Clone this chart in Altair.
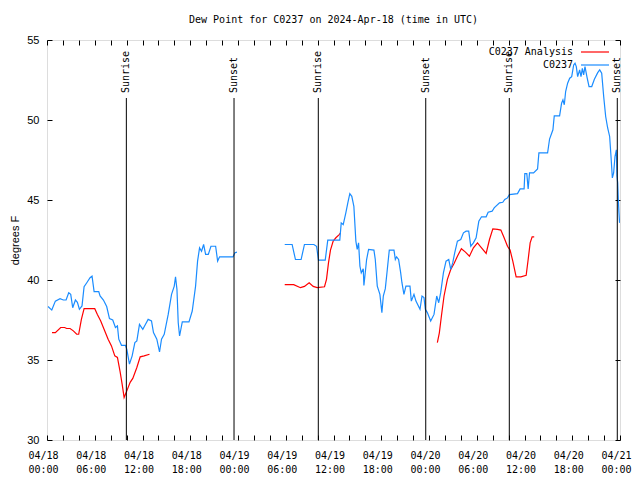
import altair as alt
import pandas as pd

TITLE = "Dew Point for C0237 on 2024-Apr-18 (time in UTC)"

# Hours since 2024-04-18 00:00 UTC, dew point in degrees F
obs1_hours = [0.13, 0.6, 1.05, 1.64, 2.06, 2.4, 2.73, 2.98, 3.23, 3.57,
              3.82, 4.07, 4.4, 4.66, 5.0, 5.41, 5.66, 5.92, 6.5, 6.67,
              7.09, 7.5, 7.85, 8.26, 8.6, 8.85, 9.02, 9.36, 9.86, 10.03,
              10.36, 10.7, 11.04, 11.29, 11.62, 12.04, 12.38, 12.71, 13.13, 13.38,
              13.8, 14.14, 14.39, 14.73, 15.23, 15.65, 15.99, 16.15, 16.33, 16.49,
              16.66, 17.0, 17.84, 18.25, 18.67, 18.92, 19.17, 19.42, 19.68, 19.93,
              20.27, 20.6, 21.19, 21.44, 21.69, 23.37, 23.62, 23.87]
obs1_values = [38.34, 38.12, 38.68, 38.83, 38.75, 38.75, 39.2, 39.1, 38.27, 38.75,
               38.6, 38.17, 38.38, 39.58, 39.83, 40.14, 40.24, 39.27, 39.27, 39.0,
               38.75, 38.34, 37.59, 37.5, 37.03, 37.13, 36.3, 35.92, 35.92, 35.67,
               34.74, 35.26, 36.09, 36.19, 37.23, 36.92, 37.23, 37.54, 37.44, 36.71,
               36.3, 35.5, 36.3, 36.6, 37.85, 39.1, 39.62, 40.2, 39.41, 37.33,
               36.5, 37.38, 37.38, 38.06, 39.62, 41.18, 42.01, 41.8, 42.22, 41.6,
               41.6, 42.11, 42.11, 41.18, 41.45, 41.45, 41.7, 41.74]

obs2_hours = [29.87, 30.8, 31.22, 31.93, 32.35, 33.53, 33.87, 34.11, 34.96, 35.28,
              36.79, 36.97, 37.22, 37.55, 37.8, 38.05, 38.3, 38.56, 38.81, 38.98,
              39.15, 39.32, 39.49, 39.74, 39.82, 39.99, 40.16, 40.41, 41.08, 41.25,
              41.5, 41.83, 42.08, 42.26, 42.51, 42.76, 43.01, 43.6, 43.77, 43.93,
              44.18, 44.43, 44.6, 44.85, 45.1, 45.61, 45.78, 46.11, 46.36, 46.87,
              47.12, 47.37, 47.54, 47.79, 48.21, 48.63, 48.97, 49.22, 49.47, 49.81,
              50.14, 50.48, 50.73, 50.98, 51.23, 51.57, 51.99, 52.33, 52.66, 52.99,
              53.25, 53.58, 53.92, 54.26, 54.6, 55.18, 55.43, 55.93, 56.19, 56.86,
              57.27, 57.52, 57.86, 58.11, 59.12, 59.45, 59.95, 60.04, 60.29, 60.46,
              60.63, 61.14, 61.64, 61.81, 62.9, 63.15, 63.57, 63.74, 64.41, 64.66,
              64.83, 65.0, 65.17, 65.42, 65.68, 65.93, 66.18, 66.35, 66.51, 66.68,
              66.93, 67.1, 67.27, 67.43, 67.6, 67.86, 68.11, 68.45, 68.78, 69.2,
              69.45, 69.7, 69.95, 70.2, 70.45, 70.7, 70.87, 71.04, 71.2, 71.37,
              71.54, 71.62, 71.71, 71.79, 71.87, 71.95]
obs2_values = [42.22, 42.22, 41.28, 41.28, 42.22, 42.22, 42.11, 41.24, 41.24, 42.49,
               42.49, 43.57, 43.46, 44.2, 44.82, 45.4, 45.23, 44.6, 42.43, 41.91,
               42.32, 40.87, 40.45, 40.7, 39.66, 40.45, 41.28, 41.91, 41.87, 41.28,
               39.62, 39.1, 37.96, 39.0, 39.46, 40.66, 41.87, 41.87, 41.28, 41.45,
               41.28, 40.49, 39.83, 39.1, 39.62, 39.62, 38.68, 39.1, 38.68, 38.17,
               39.0, 38.9, 38.17, 37.96, 37.44, 37.85, 39.0, 38.58, 39.21, 40.45,
               41.18, 41.28, 40.66, 41.07, 41.7, 42.43, 42.53, 42.95, 43.05, 43.05,
               42.11, 42.32, 42.64, 43.67, 43.95, 43.95, 44.24, 44.3, 44.51, 44.82,
               44.86, 45.03, 45.13, 45.34, 45.4, 45.69, 45.69, 46.65, 46.65, 45.69,
               46.69, 46.69, 46.94, 47.94, 47.94, 48.81, 49.39, 50.26, 50.26, 51.05,
               51.26, 50.95, 51.78, 52.3, 52.61, 52.71, 53.44, 53.55, 53.34, 52.71,
               53.13, 52.71, 53.23, 52.82, 53.34, 52.67, 52.09, 52.09, 52.55, 52.96,
               53.13, 52.92, 51.47, 50.22, 49.5, 48.97, 47.72, 46.38, 46.69, 47.72,
               48.14, 46.5, 46.07, 45.03, 44.2, 43.57]

ana1_hours = [0.63, 1.05, 1.72, 2.22, 2.47, 2.9, 3.31, 3.73, 3.98, 4.32,
              4.66, 6.0, 6.33, 6.75, 7.17, 7.68, 8.1, 8.52, 8.85, 9.19,
              9.44, 9.69, 10.03, 10.45, 10.78, 11.29, 11.71, 12.21, 12.88]
ana1_values = [36.71, 36.71, 37.03, 37.03, 36.97, 36.97, 36.82, 36.61, 36.61, 37.54,
               38.21, 38.21, 37.85, 37.44, 36.92, 36.3, 35.88, 35.26, 35.16, 34.26,
               33.49, 32.66, 33.07, 33.6, 33.85, 34.53, 35.2, 35.26, 35.36]

ana2_hours = [29.87, 31.0, 31.85, 32.35, 32.94, 33.45, 33.95, 34.87, 35.12, 35.37,
              35.62, 35.96, 36.3, 36.72, 36.88]
ana2_values = [39.71, 39.71, 39.52, 39.6, 39.83, 39.6, 39.52, 39.58, 40.04, 41.07,
               41.87, 42.43, 42.64, 42.84, 42.95]

ana3_hours = [49.05, 49.3, 49.56, 49.89, 50.31, 50.73, 51.15, 51.57, 52.07, 52.58,
              53.08, 53.58, 54.09, 54.6, 55.18, 55.6, 56.02, 56.61, 57.03, 57.44,
              57.86, 58.19, 58.53, 58.95, 59.54, 60.21, 60.46, 60.71, 60.96, 61.22]
ana3_values = [36.09, 36.7, 37.75, 39.0, 40.04, 40.66, 41.03, 41.49, 41.95, 41.74,
               41.49, 42.01, 42.32, 42.01, 41.66, 42.53, 43.2, 43.16, 43.12, 42.64,
               42.11, 41.87, 41.18, 40.2, 40.2, 40.29, 41.28, 42.32, 42.7, 42.7]

sunrise_hours = [9.97, 34.09, 58.09]
sunset_hours = [23.5, 47.59, 71.66]

x_label_hours = list(range(0, 73, 6))
x_tick_hours = list(range(0, 73, 2))
y_ticks = [30, 35, 40, 45, 50, 55]
legend_labels = ["C0237 Analysis", "C0237"]


def seg_frame(pairs):
    rows = []
    for seg, (hs, vs) in enumerate(pairs):
        assert len(hs) == len(vs)
        for h, v in zip(hs, vs):
            rows.append({"hours": h, "dewpoint": v, "seg": seg})
    return pd.DataFrame(rows)


obs_df = seg_frame([(obs1_hours, obs1_values), (obs2_hours, obs2_values)])
ana_df = seg_frame([(ana1_hours, ana1_values), (ana2_hours, ana2_values),
                    (ana3_hours, ana3_values)])
sun_df = pd.DataFrame({
    "hours": sunrise_hours + sunset_hours,
    "event": ["Sunrise"] * len(sunrise_hours) + ["Sunset"] * len(sunset_hours),
})

W, H = 573, 400
BLUE = "#1a8cff"
RED = "#ff0000"
MONO = "DejaVu Sans Mono"
SANS = "Liberation Sans"

xs = alt.Scale(domain=[0, 72], nice=False, zero=False)
ys = alt.Scale(domain=[30, 55], nice=False, zero=False)

label_expr = ("[utcFormat(utc(2024, 3, 18, datum.value), '%m/%d'), "
              "utcFormat(utc(2024, 3, 18, datum.value), '%H:%M')]")

common_tick = dict(labels=False, domain=False, grid=False, ticks=True,
                   tickSize=5, tickColor="black", tickWidth=1, title=None)

ax_x_labels = alt.Axis(orient="bottom", values=x_label_hours, labelExpr=label_expr,
                       ticks=False, domain=False, grid=False, title=None,
                       labelFont=MONO, labelFontSize=10, labelColor="black",
                       labelPadding=10, labelLineHeight=14, labelFlush=False,
                       labelOverlap=False, labelOffset=-4)
ax_x_ticks_bottom = alt.Axis(orient="top", offset=-H, values=x_tick_hours, **common_tick)
ax_x_ticks_top = alt.Axis(orient="bottom", offset=-H, values=x_tick_hours, **common_tick)

ax_y_labels = alt.Axis(orient="left", values=y_ticks, ticks=False, domain=False,
                       grid=False, title="degrees F", labelFont=SANS,
                       labelFontSize=11, labelColor="black", labelPadding=8,
                       titleFont=SANS, titleFontSize=11, titleFontWeight="normal",
                       titleColor="black", titleX=-32, titleY=H / 2,
                       titleAngle=270, titleAlign="center", titleBaseline="middle")
ax_y_ticks_left = alt.Axis(orient="right", offset=-W, values=y_ticks, **common_tick)
ax_y_ticks_right = alt.Axis(orient="left", offset=-W, values=y_ticks, **common_tick)

ana = alt.Chart(ana_df).mark_line(color=RED, strokeWidth=1.2).encode(
    x=alt.X("hours:Q", scale=xs, axis=ax_x_ticks_bottom),
    y=alt.Y("dewpoint:Q", scale=ys, axis=ax_y_ticks_left),
    detail="seg:N",
)
obs = alt.Chart(obs_df).mark_line(color=BLUE, strokeWidth=1.2, clip=True).encode(
    x=alt.X("hours:Q", scale=xs, axis=ax_x_labels),
    y=alt.Y("dewpoint:Q", scale=ys, axis=ax_y_labels),
    detail="seg:N",
)
ghost = alt.Chart(obs_df).mark_line(opacity=0).encode(
    x=alt.X("hours:Q", scale=xs, axis=ax_x_ticks_top),
    y=alt.Y("dewpoint:Q", scale=ys, axis=ax_y_ticks_right),
    detail="seg:N",
)
rules = alt.Chart(sun_df).mark_rule(color="black", strokeWidth=1).encode(
    x=alt.X("hours:Q", scale=xs, axis=None),
    y=alt.value(58),
    y2=alt.value(H),
)
sun_text = alt.Chart(sun_df).mark_text(
    angle=270, align="left", baseline="middle", font=MONO, fontSize=10, color="black"
).encode(
    x=alt.X("hours:Q", scale=xs, axis=None),
    y=alt.value(53),
    text="event:N",
)

legend_layers = []
for i, (lab, col) in enumerate(zip(legend_labels, [RED, BLUE])):
    d = alt.Data(values=[{"label": lab}])
    ypix = 12 + 13 * i
    legend_layers.append(
        alt.Chart(d).mark_text(align="right", baseline="middle", font=MONO,
                               fontSize=10, color="black").encode(
            x=alt.value(526), y=alt.value(ypix), text="label:N"))
    legend_layers.append(
        alt.Chart(d).mark_rule(color=col, strokeWidth=1.2).encode(
            x=alt.value(534), x2=alt.value(562), y=alt.value(ypix)))

chart = alt.layer(ana, obs, ghost, rules, sun_text, *legend_layers).resolve_axis(
    x="independent", y="independent"
).properties(
    width=W,
    height=H,
    title=alt.TitleParams(TITLE, font=MONO, fontSize=10, fontWeight="normal",
                          anchor="middle", offset=9, color="black"),
    autosize=alt.AutoSizeParams(type="none"),
    padding={"left": 39, "top": 32, "right": 12, "bottom": 40},
).configure_view(stroke="black", strokeWidth=1).configure(background="white")

chart.save("out.html", embed_options={"renderer": "svg", "actions": False})
